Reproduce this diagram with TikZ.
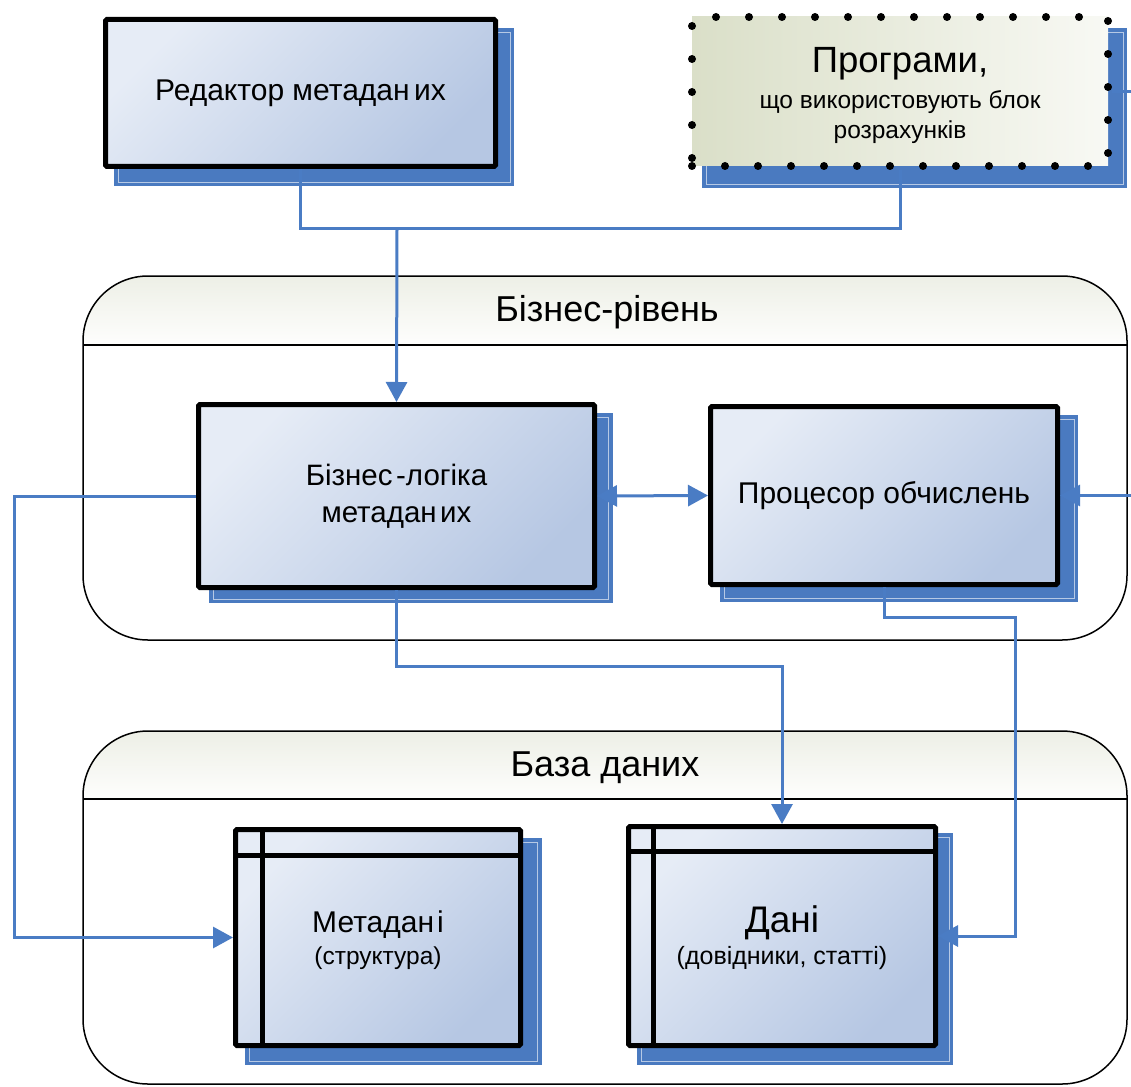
\documentclass[tikz,border=0pt]{standalone}
\usepackage{fontspec}
\setmainfont{Liberation Sans}
\usetikzlibrary{arrows.meta,calc}

\definecolor{boxlight}{HTML}{E6ECF6}
\definecolor{boxdark}{HTML}{B6C7E3}
\definecolor{shadowblue}{HTML}{4A7AC0}
\definecolor{linkblue}{HTML}{4A7CC4}
\definecolor{progleft}{HTML}{DADFC8}
\definecolor{progright}{HTML}{F8F9F4}
\definecolor{bandtop}{HTML}{EDEFE6}
\definecolor{bandbottom}{HTML}{FEFEFD}

\newcommand{\fsz}[1]{\fontsize{#1}{#1}\selectfont}

\tikzset{
  procbox/.style={draw=black, line width=5pt, rounded corners=1.5pt,
    top color=boxlight, bottom color=boxdark, shading angle=45,
    inner sep=0pt, align=center, text=black},
  progbox/.style={draw=black, line width=8pt, line cap=round,
    dash pattern=on 0pt off 33pt,
    left color=progleft, right color=progright,
    inner sep=0pt, align=center},
  boxshadow/.style={fill=shadowblue},
  shadowedge/.style={draw=white, line width=0.8pt, opacity=0.6},
  tableline/.style={draw=black, line width=5pt},
  link/.style={draw=linkblue, line width=3pt},
  arrowlink/.style={link, -{Triangle[length=20pt,width=21pt]}},
  twoway/.style={link, {Triangle[length=20pt,width=21pt]}-{Triangle[length=20pt,width=21pt]}},
  outline/.style={draw=black, line width=1.5pt},
  title/.style={anchor=base, inner sep=0pt, font=\fsz{36}},
  label/.style={anchor=base, inner sep=0pt},
}

\begin{document}
\begin{tikzpicture}[x=1pt,y=-1pt]
\useasboundingbox (0,0) rectangle (1131,1086);

% ---------- layer containers ----------
% business layer
\fill[white, rounded corners=65pt] (83,276) rectangle (1127,640);
\begin{scope}
  \clip[rounded corners=65pt] (83,276) rectangle (1127,640);
  \shade[top color=bandtop, bottom color=bandbottom] (83,276) rectangle (1127,345);
\end{scope}
\draw[outline, rounded corners=65pt] (83,276) rectangle (1127,640);
\draw[outline] (83,345) -- (1127,345);
\node[title] (bizTitle) at (607,321) {Бізнес-рівень};

% database layer
\fill[white, rounded corners=65pt] (83,731) rectangle (1127,1084);
\begin{scope}
  \clip[rounded corners=65pt] (83,731) rectangle (1127,1084);
  \shade[top color=bandtop, bottom color=bandbottom] (83,731) rectangle (1127,799);
\end{scope}
\draw[outline, rounded corners=65pt] (83,731) rectangle (1127,1084);
\draw[outline] (83,799) -- (1127,799);
\node[title] (dbTitle) at (605,776) {База даних};

% ---------- drop shadows ----------
\fill[boxshadow] (114,28) rectangle (514,186);
\draw[shadowedge] (118,32) rectangle (510,182);
\fill[boxshadow] (702,28) rectangle (1127,188);
\draw[shadowedge] (706,32) rectangle (1123,184);
\fill[boxshadow] (209,413) rectangle (613,603);
\draw[shadowedge] (213,417) rectangle (608,599);
\fill[boxshadow] (720,415) rectangle (1078,602);
\draw[shadowedge] (724,419) rectangle (1074,598);
\fill[boxshadow] (245,838) rectangle (542,1065);
\draw[shadowedge] (249,842) rectangle (537,1061);
\fill[boxshadow] (637,833) rectangle (953,1065);
\draw[shadowedge] (641,837) rectangle (949,1061);

% ---------- blocks ----------
\node[procbox, minimum width=390pt, minimum height=147pt, font=\fsz{30}]
  (editor) at (300.5,93) {Редактор метадан\kern0.15em их};

\node[progbox, minimum width=416pt, minimum height=149pt]
  (prog) at (900,91.5) {};
\node[label, font=\fsz{36.5}] (progTitle) at (900,73) {Програми,};
\node[label, font=\fsz{24.5}] (progLine) at (900,109) {що використовують блок};
\node[label, font=\fsz{24.5}] (progLineB) at (900,139) {розрахунків};

\node[procbox, minimum width=396pt, minimum height=183pt, font=\fsz{29.5}]
  (logic) at (396.5,496) {Бізнес\kern0.12em-логіка\\[7pt]метадан\kern0.12em их};

\node[procbox, minimum width=347pt, minimum height=178pt, font=\fsz{30}]
  (proc) at (884,495.5) {Процесор обчислень};

% tables
\node[procbox, minimum width=285pt, minimum height=216pt]
  (meta) at (378,937.5) {};
\draw[tableline] ($(meta.north west)+(0,28)$) -- ($(meta.north east)+(0,28)$);
\draw[tableline] ($(meta.north west)+(29,0)$) -- ($(meta.south west)+(29,0)$);
\node[label, font=\fsz{30}] (metaText) at (378,932) {Метадан\kern0.1em і};
\node[label, font=\fsz{24.5}] (metaNote) at (378,964) {(структура)};

\node[procbox, minimum width=307pt, minimum height=219pt]
  (data) at (782,936) {};
\draw[tableline] ($(data.north west)+(0,27)$) -- ($(data.north east)+(0,27)$);
\draw[tableline] ($(data.north west)+(27,0)$) -- ($(data.south west)+(27,0)$);
\node[label, font=\fsz{37}] (dataText) at (782,932) {Дані};
\node[label, font=\fsz{25}] (dataNote) at (782,964) {(довідники, статті)};

% ---------- connectors ----------
\coordinate (merge) at (397,228);
\coordinate (logicDown) at (782,666);
\coordinate (procDown) at (1015,617);
\coordinate (outLeft) at (14,496);
\coordinate (rightIn) at (1131,495.5);
\coordinate (rightOut) at (1131,91.5);

\draw[link] (editor.south) |- (merge) -| (prog.south);
\draw[arrowlink] (merge) -- (logic.north);
\draw[twoway] (logic.east) -- (proc.west);
\draw[arrowlink] (logic.west) -- (outLeft) |- (meta.west);
\draw[arrowlink] (logic.south) |- (logicDown) -- (data.north);
\draw[arrowlink] (proc.south) |- (procDown) |- (data.east);
\draw[arrowlink] (rightIn) -- (proc.east);
\draw[link] (prog.east) -- (rightOut);

\end{tikzpicture}
\end{document}
